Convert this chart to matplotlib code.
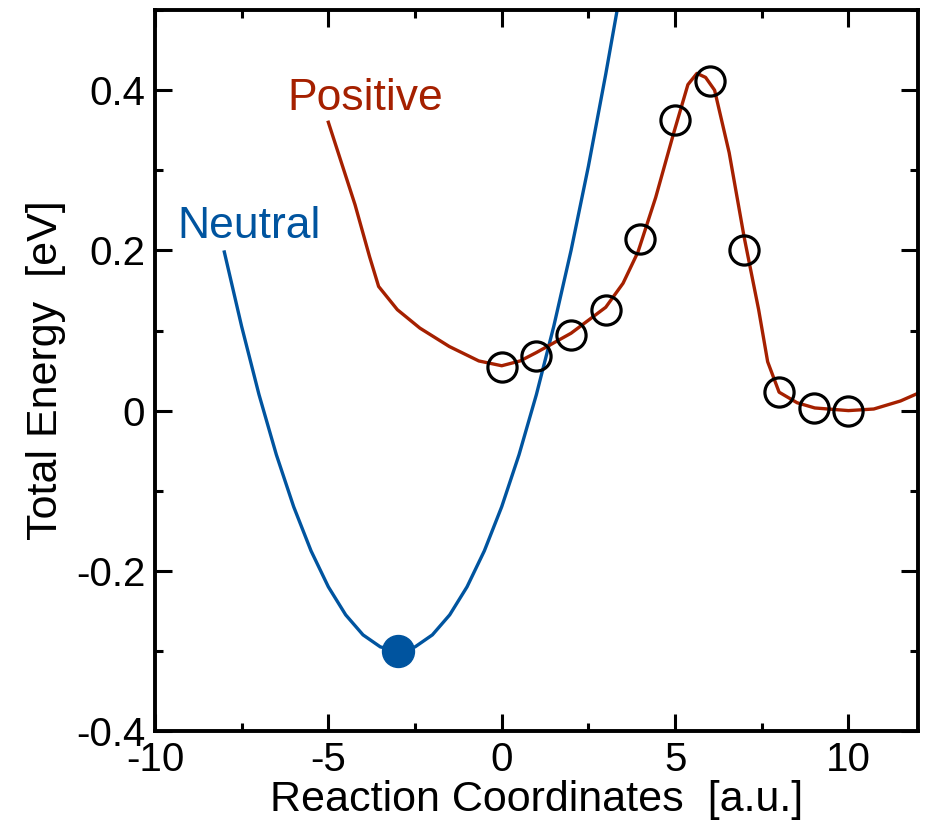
import matplotlib
matplotlib.use("Agg")
import matplotlib.pyplot as plt
from matplotlib.ticker import MultipleLocator

plt.rcParams['font.family'] = ['Liberation Sans', 'DejaVu Sans']

# Neutral curve
neutral_x = [-8.0, -7.5, -7.0, -6.5, -6.0, -5.5, -5.0, -4.5, -4.0, -3.5, -3.0,
             -2.5, -2.0, -1.5, -1.0, -0.5, 0.0, 0.5, 1.0, 1.5, 2.0, 2.5, 3.0, 3.35]
neutral_y = [0.198, 0.105, 0.02, -0.055, -0.12, -0.175, -0.22, -0.255, -0.28, -0.295, -0.30,
             -0.295, -0.28, -0.255, -0.22, -0.175, -0.12, -0.055, 0.02, 0.105, 0.20, 0.305, 0.42, 0.505]
neutral_min_x = [-3.0]
neutral_min_y = [-0.30]

# Positive curve
pos_line_x = [-5.0, -4.23, -3.81, -3.55, -3.01, -2.36, -1.51, -0.66, 0.0, 0.53, 1.0, 2.0, 3.0,
              3.5, 3.93, 4.44, 4.95, 5.37, 5.63, 5.88, 6.14, 6.56, 6.99, 7.41, 7.67, 8.0,
              8.52, 9.03, 10.0, 10.73, 11.5, 12.0]
pos_line_y = [0.36, 0.257, 0.192, 0.155, 0.126, 0.103, 0.080, 0.062, 0.056, 0.062, 0.0725, 0.0966, 0.129,
              0.159, 0.198, 0.266, 0.345, 0.407, 0.421, 0.416, 0.40, 0.322, 0.217, 0.126, 0.061, 0.023,
              0.0098, 0.0033, 0.0, 0.002, 0.012, 0.0215]

pos_pts_x = [0, 1, 2, 3, 4, 5, 6, 7, 8, 9, 10]
pos_pts_y = [0.054, 0.0686, 0.0947, 0.126, 0.214, 0.3625, 0.4115, 0.201, 0.0229, 0.0033, 0.0]

blue = '#00549f'
red = '#a52000'

fig = plt.figure(figsize=(9.28, 8.22), dpi=100)
ax = fig.add_axes([0.167, 0.1107, 0.822, 0.877])

ax.plot(neutral_x, neutral_y, color=blue, lw=2.4, solid_joinstyle='round')
ax.plot(pos_line_x, pos_line_y, color=red, lw=2.4, solid_joinstyle='round')
ax.plot(pos_pts_x, pos_pts_y, linestyle='none', marker='o', markersize=21,
        markerfacecolor='none', markeredgecolor='black', markeredgewidth=2.3)
ax.plot(neutral_min_x, neutral_min_y, linestyle='none', marker='o', markersize=23,
        markerfacecolor=blue, markeredgecolor=blue)

ax.text(-3.95, 0.375, 'Positive', color=red, fontsize=32, ha='center', va='baseline')
ax.text(-7.3, 0.216, 'Neutral', color=blue, fontsize=32, ha='center', va='baseline')

ax.set_xlim(-10, 12)
ax.set_ylim(-0.4, 0.5)
ax.xaxis.set_major_locator(MultipleLocator(5))
ax.xaxis.set_minor_locator(MultipleLocator(2.5))
ax.yaxis.set_major_locator(MultipleLocator(0.2))
ax.yaxis.set_minor_locator(MultipleLocator(0.1))

def fmt_y(v, pos):
    if abs(v) < 1e-9:
        return '0'
    return ('%.1f' % v)
ax.yaxis.set_major_formatter(plt.FuncFormatter(fmt_y))
ax.xaxis.set_major_formatter(plt.FuncFormatter(lambda v, p: '%d' % round(v)))

ax.tick_params(which='both', direction='in', top=True, right=True, labelsize=29, width=2.2)
ax.tick_params(which='major', length=12)
ax.tick_params(which='minor', length=6)
ax.tick_params(axis='x', pad=7)
ax.tick_params(axis='y', pad=7)
for s in ax.spines.values():
    s.set_linewidth(2.8)

ax.set_xlabel('Reaction Coordinates  [a.u.]', fontsize=31, labelpad=1)
ax.set_ylabel('Total Energy  [eV]', fontsize=31, labelpad=7)

fig.savefig('out.png', dpi=100)
